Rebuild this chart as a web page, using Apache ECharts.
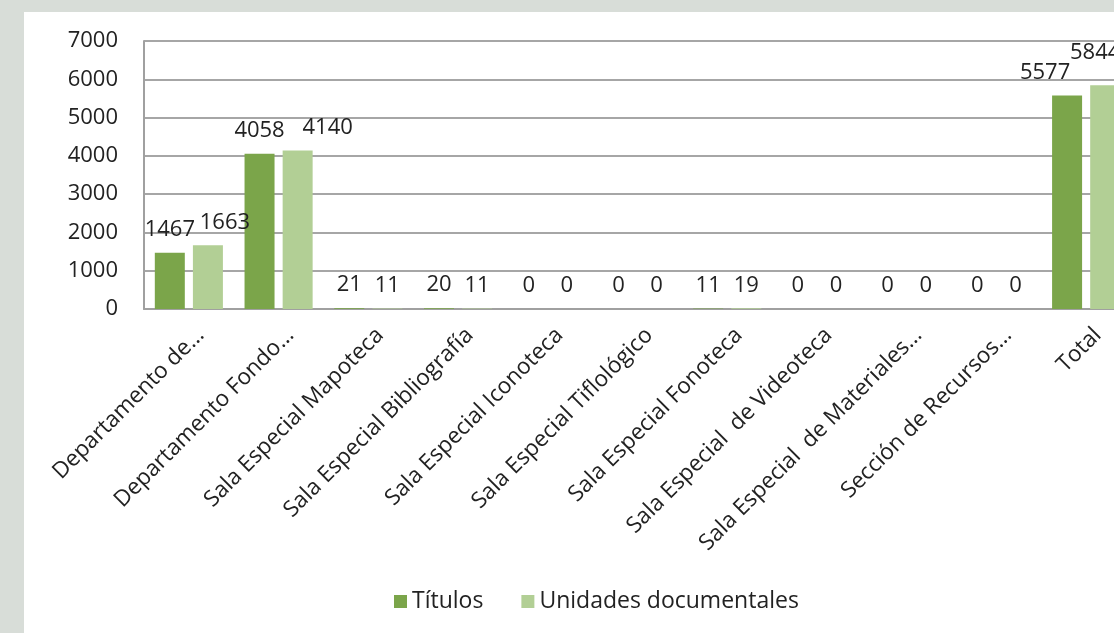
<!DOCTYPE html>
<html>
<head>
<meta charset="utf-8">
<script src="https://cdn.jsdelivr.net/npm/echarts@6/dist/echarts.min.js"></script>
<style>
  html, body { margin: 0; padding: 0; width: 1114px; height: 633px; overflow: hidden; background: #d8ddd8; }
  #main { position: absolute; left: 24px; top: 12px; width: 1120px; height: 640px; background: #ffffff; }
</style>
</head>
<body>
<div id="main"></div>
<script>
// categorías del eje X
const categorias = [
  'Departamento de…',
  'Departamento Fondo…',
  'Sala Especial Mapoteca',
  'Sala Especial Bibliografía',
  'Sala Especial Iconoteca',
  'Sala Especial Tiflológico',
  'Sala Especial Fonoteca',
  'Sala Especial  de Videoteca',
  'Sala Especial  de Materiales…',
  'Sección de Recursos…',
  'Total'
];
const titulos = [1467, 4058, 21, 20, 0, 0, 11, 0, 0, 0, 5577];
const unidades = [1663, 4140, 11, 11, 0, 0, 19, 0, 0, 0, 5844];
const yTicks = [0, 1000, 2000, 3000, 4000, 5000, 6000, 7000];

const fuente = '"Open Sans", sans-serif';
const colorTexto = '#222222';

// desplazamiento de etiquetas que Excel movió para no solaparse
const offTitulos = {10: [-22, 0]};
const offUnidades = {0: [17, 0], 1: [30, 0], 10: [-10, -10]};

function armar(valores, offs) {
  return valores.map((v, i) => {
    let item = {value: v};
    if (offs[i]) item.label = {offset: offs[i]};
    return item;
  });
}

let chart = echarts.init(document.getElementById('main'));
let etiqueta = {
  show: true,
  position: 'top',
  distance: 12,
  fontFamily: fuente,
  fontSize: 22,
  color: colorTexto
};

let option = {
  animation: false,
  textStyle: {fontFamily: fuente},
  grid: {left: 120, top: 29, height: 268, width: 987},
  legend: {
    left: 365,
    top: 573,
    itemWidth: 13,
    itemHeight: 13,
    itemGap: 38,
    icon: 'rect',
    textStyle: {fontFamily: fuente, fontSize: 23, color: colorTexto}
  },
  xAxis: {
    type: 'category',
    data: categorias,
    axisLine: {lineStyle: {color: '#a0a0a0', width: 2}},
    axisTick: {show: false},
    axisLabel: {
      rotate: 45,
      interval: 0,
      margin: 11,
      align: 'right',
      verticalAlign: 'top',
      padding: [5, 0, 0, 0],
      fontFamily: fuente,
      fontSize: 22.5,
      lineHeight: 23,
      color: colorTexto
    }
  },
  yAxis: {
    type: 'value',
    min: yTicks[0],
    max: yTicks[yTicks.length - 1],
    interval: 1000,
    axisLine: {show: true, lineStyle: {color: '#a0a0a0', width: 2}},
    axisTick: {show: false},
    splitLine: {lineStyle: {color: '#a6a6a6', width: 2}},
    axisLabel: {
      margin: 26,
      fontFamily: fuente,
      fontSize: 22,
      color: colorTexto,
      formatter: v => String(v)
    }
  },
  series: [
    {
      name: 'Títulos',
      type: 'bar',
      barWidth: 30,
      barGap: '27%',
      itemStyle: {color: '#7ba54a'},
      label: etiqueta,
      data: armar(titulos, offTitulos)
    },
    {
      name: 'Unidades documentales',
      type: 'bar',
      barWidth: 30,
      itemStyle: {color: '#b2cf95'},
      label: etiqueta,
      data: armar(unidades, offUnidades)
    }
  ]
};
chart.setOption(option);
</script>
</body>
</html>
